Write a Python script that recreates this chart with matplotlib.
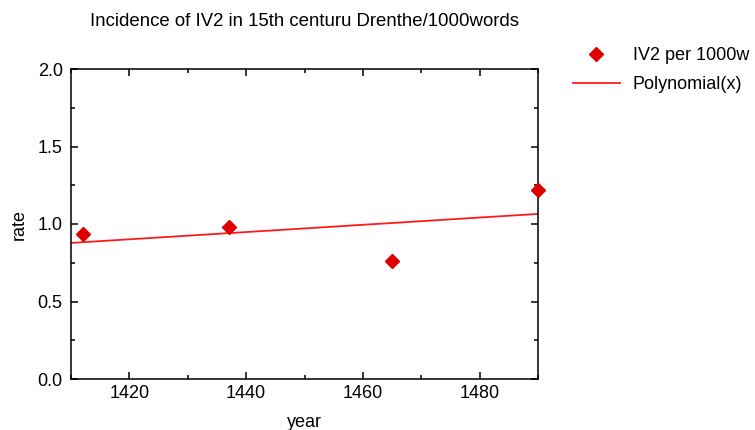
import numpy as np
import matplotlib
matplotlib.use("Agg")
import matplotlib.pyplot as plt
from matplotlib.ticker import MultipleLocator

plt.rcParams['font.family'] = ['Liberation Sans', 'DejaVu Sans']

years = [1412, 1437, 1465, 1490]
rates = [0.935, 0.98, 0.76, 1.22]
title = "Incidence of IV2 in 15th centuru Drenthe/1000words"

FS = 13
fig = plt.figure(figsize=(7.55, 4.3), dpi=100)
ax = fig.add_axes([71/755, 1 - 379/430, (538-71)/755, (379-69)/430])

coef = np.polyfit(years, rates, 1)
xs = np.array([1410, 1490])
ax.plot(xs, np.polyval(coef, xs), color='#ff1a1a', lw=1.3, label='Polynomial(x)', zorder=2)
ax.plot(years, rates, linestyle='none', marker='D', ms=7.5, color='#dd0000',
        label='IV2 per 1000w', zorder=3, clip_on=False)

ax.set_xlim(1410, 1490)
ax.set_ylim(0, 2.0)
ax.xaxis.set_major_locator(MultipleLocator(20))
ax.xaxis.set_minor_locator(MultipleLocator(10))
ax.yaxis.set_major_locator(MultipleLocator(0.5))
ax.yaxis.set_minor_locator(MultipleLocator(0.25))
ax.tick_params(which='both', direction='in', top=True, right=True, width=1.1,
               labelsize=FS)
ax.tick_params(axis='y', pad=6)
ax.tick_params(axis='x', pad=4.5)
ax.tick_params(which='major', length=5)
ax.tick_params(which='minor', length=3)
ax.yaxis.set_major_formatter(matplotlib.ticker.FormatStrFormatter('%.1f'))
for s in ax.spines.values():
    s.set_linewidth(1.1)

ax.set_xlabel('year', fontsize=FS, labelpad=8.5)
ax.set_ylabel('rate', fontsize=FS, labelpad=7)
fig.text(304/755, 1 - 21/430, title, ha='center', va='center', fontsize=13.4)

h, l = ax.get_legend_handles_labels()
leg = fig.legend([h[1], h[0]], [l[1], l[0]], loc='upper left',
                 bbox_to_anchor=(573/755, 1 - 47/430), frameon=False,
                 fontsize=FS, handlelength=2.6, handletextpad=0.72,
                 labelspacing=0.68, borderpad=0, borderaxespad=0)

fig.savefig('out.png', dpi=100)
